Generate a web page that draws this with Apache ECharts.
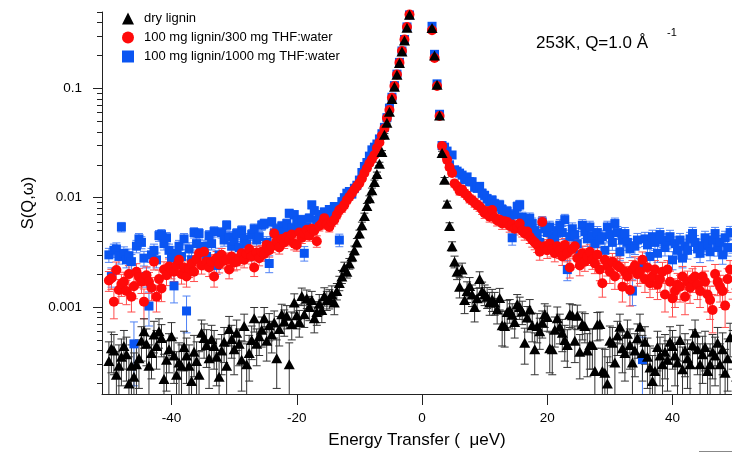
<!DOCTYPE html>
<html>
<head>
<meta charset="utf-8">
<script src="https://cdn.jsdelivr.net/npm/echarts@6/dist/echarts.min.js"></script>
<style>
  html, body { margin: 0; padding: 0; background: #fff; }
  #chart { width: 732px; height: 452px; }
</style>
</head>
<body>
<div id="chart"></div>
<script>
// Energy bins (μeV): regular 0.4 μeV grid from -50 to 50
const E_START = -50, E_STEP = 0.4, E_COUNT = 251;
const energy = [];
for (let i = 0; i < E_COUNT; i++) energy.push(+(E_START + i * E_STEP).toFixed(1));

// S(Q,ω) at 253 K, Q = 1.0 Å⁻¹ — null where the elastic peak is above the plotted range
const dryLignin = [
  3.2e-4,4.2e-4,4.0e-4,2.4e-4,2.9e-4,3.5e-4,4.4e-4,3.7e-4,2.0e-4,2.9e-4,
  2.3e-4,3.0e-4,3.4e-4,4.9e-4,6.0e-4,4.6e-4,2.9e-4,3.8e-4,5.6e-4,4.4e-4,
  6.0e-4,5.2e-4,2.2e-4,3.3e-4,4.1e-4,5.4e-4,3.6e-4,2.4e-4,3.1e-4,2.9e-4,
  4.3e-4,3.6e-4,2.9e-4,2.1e-4,3.9e-4,3.2e-4,2.4e-4,5.8e-4,5.2e-4,4.5e-4,
  3.4e-4,5.1e-4,4.4e-4,3.5e-4,2.3e-4,4.0e-4,4.8e-4,2.9e-4,6.3e-4,5.1e-4,
  4.1e-4,5.8e-4,4.6e-4,3.3e-4,6.7e-4,3.0e-4,3.8e-4,5.0e-4,7.9e-4,4.6e-4,
  5.4e-4,6.2e-4,7.9e-4,4.9e-4,6.8e-4,5.6e-4,7.2e-4,3.4e-4,6.3e-4,8.6e-4,
  7.4e-4,8.3e-4,3.0e-4,7.0e-4,1.1e-3,8.4e-4,7.3e-4,1.26e-3,8.6e-4,1.2e-3,
  1.0e-3,1.16e-3,7.9e-4,9.0e-4,1.07e-3,9.4e-4,1.26e-3,1.16e-3,1.2e-3,1.31e-3,
  1.1e-3,1.4e-3,1.66e-3,1.9e-3,2.3e-3,2.1e-3,2.5e-3,2.9e-3,3.3e-3,3.9e-3,
  4.7e-3,5.6e-3,6.8e-3,8.4e-3,9.9e-3,0.0117,0.0139,0.0165,0.0204,0.0262,
  0.0376,0.0484,0.061,0.080,0.1035,0.133,0.171,0.218,0.275,0.359,
  0.472,
  null,null,null,null,null,null,null,null,
  0.356,
  0.20,0.108,0.0565,0.0257,0.0146,0.0088,0.0055,0.0036,0.0026,0.0021,
  1.53e-3,2.2e-3,1.16e-3,1.4e-3,1.56e-3,1.3e-3,1.0e-3,1.2e-3,1.8e-3,1.4e-3,
  1.31e-3,1.24e-3,1.1e-3,1.18e-3,1.1e-3,9.5e-4,1.21e-3,6.8e-4,6.7e-4,9.0e-4,
  9.4e-4,8.5e-4,7.3e-4,1.06e-3,1.0e-3,9.1e-4,4.7e-4,8.0e-4,9.5e-4,6.8e-4,
  4.1e-4,6.7e-4,6.0e-4,7.2e-4,8.6e-4,8.1e-4,4.2e-4,4.1e-4,6.2e-4,7.9e-4,
  6.6e-4,5.8e-4,5.0e-4,4.5e-4,8.6e-4,8.4e-4,4.9e-4,8.3e-4,3.9e-4,7.0e-4,
  6.7e-4,4.0e-4,4.5e-4,4.5e-4,2.6e-4,6.9e-4,7.0e-4,2.6e-4,2.5e-4,2.0e-4,
  4.9e-4,4.7e-4,3.1e-4,5.5e-4,6.6e-4,4.2e-4,3.8e-4,5.7e-4,4.5e-4,3.1e-4,
  4.0e-4,5.2e-4,6.6e-4,3.8e-4,4.8e-4,3.5e-4,2.8e-4,2.1e-4,2.6e-4,4.3e-4,
  3.6e-4,3.0e-4,3.9e-4,3.3e-4,4.8e-4,4.4e-4,3.6e-4,3.1e-4,5.0e-4,2.7e-4,
  4.0e-4,3.4e-4,3.0e-4,4.5e-4,5.8e-4,4.1e-4,3.0e-4,3.7e-4,4.3e-4,2.6e-4,
  3.0e-4,3.9e-4,3.6e-4,4.7e-4,3.0e-4,4.1e-4,2.5e-4,3.4e-4,5.3e-4,4.4e-4,3.8e-4
];
const dryLigninErr = [
  1.6e-4,1.7e-4,1.6e-4,1.5e-4,1.6e-4,1.6e-4,1.7e-4,1.6e-4,1.5e-4,1.6e-4,
  1.5e-4,1.6e-4,1.6e-4,1.7e-4,1.8e-4,1.7e-4,1.6e-4,1.6e-4,1.8e-4,1.7e-4,
  1.8e-4,1.7e-4,1.5e-4,1.6e-4,1.6e-4,1.8e-4,1.6e-4,1.5e-4,1.6e-4,1.6e-4,
  1.7e-4,1.6e-4,1.6e-4,1.5e-4,1.6e-4,1.6e-4,1.5e-4,1.8e-4,1.8e-4,1.7e-4,
  1.6e-4,1.7e-4,1.7e-4,1.6e-4,1.5e-4,1.6e-4,1.7e-4,1.6e-4,1.9e-4,1.7e-4,
  1.7e-4,1.8e-4,1.7e-4,1.6e-4,1.9e-4,1.6e-4,1.7e-4,1.7e-4,2.0e-4,1.7e-4,
  1.8e-4,1.9e-4,2.0e-4,1.7e-4,1.9e-4,1.8e-4,2.0e-4,1.6e-4,1.9e-4,2.0e-4,
  2.0e-4,2.0e-4,1.7e-4,2.0e-4,2.2e-4,2.1e-4,2.0e-4,2.3e-4,2.1e-4,2.3e-4,
  2.5e-4,2.3e-4,2.1e-4,2.2e-4,2.3e-4,2.2e-4,2.4e-4,2.3e-4,2.4e-4,2.5e-4,
  2.5e-4,2.4e-4,2.5e-4,2.6e-4,2.7e-4,2.6e-4,2.8e-4,3.0e-4,3.1e-4,3.3e-4,
  3.5e-4,3.8e-4,4.2e-4,4.6e-4,5.0e-4,5.5e-4,6.0e-4,6.5e-4,7.0e-4,8.0e-4,
  1.0e-3,1.1e-3,1.2e-3,1.4e-3,1.6e-3,1.8e-3,2.0e-3,2.3e-3,2.6e-3,3.0e-3,
  3.4e-3,
  null,null,null,null,null,null,null,null,
  3.4e-3,
  2.5e-3,1.8e-3,1.3e-3,9.0e-4,7.0e-4,5.0e-4,4.0e-4,3.5e-4,3.2e-4,3.2e-4,
  3.2e-4,3.2e-4,2.9e-4,3.0e-4,3.0e-4,2.9e-4,2.7e-4,2.8e-4,3.0e-4,2.9e-4,
  2.8e-4,2.7e-4,2.6e-4,2.7e-4,2.6e-4,2.5e-4,2.7e-4,2.4e-4,2.4e-4,2.5e-4,
  2.3e-4,2.2e-4,2.1e-4,2.4e-4,2.3e-4,2.2e-4,1.7e-4,2.1e-4,2.2e-4,2.0e-4,
  1.7e-4,2.0e-4,1.9e-4,2.0e-4,2.1e-4,2.1e-4,1.7e-4,1.7e-4,1.9e-4,2.1e-4,
  2.0e-4,1.9e-4,1.8e-4,1.7e-4,2.1e-4,2.1e-4,1.8e-4,2.1e-4,1.7e-4,2.0e-4,
  2.0e-4,1.7e-4,1.8e-4,1.8e-4,1.6e-4,2.0e-4,2.0e-4,1.6e-4,1.6e-4,1.5e-4,
  1.8e-4,1.8e-4,1.6e-4,1.9e-4,2.0e-4,1.7e-4,1.7e-4,1.9e-4,1.8e-4,1.6e-4,
  1.7e-4,1.8e-4,2.0e-4,1.7e-4,1.8e-4,1.7e-4,1.6e-4,1.5e-4,1.6e-4,1.7e-4,
  1.7e-4,1.6e-4,1.7e-4,1.6e-4,1.8e-4,1.7e-4,1.7e-4,1.6e-4,1.8e-4,1.6e-4,
  1.7e-4,1.6e-4,1.6e-4,1.7e-4,1.8e-4,1.7e-4,1.6e-4,1.7e-4,1.7e-4,1.6e-4,
  1.6e-4,1.7e-4,1.7e-4,1.8e-4,1.6e-4,1.7e-4,1.6e-4,1.7e-4,1.8e-4,1.7e-4,1.7e-4
];

const lignin300 = [
  1.75e-3,1.83e-3,1.12e-3,2.18e-3,1.43e-3,1.62e-3,1.7e-3,1.4e-3,2.0e-3,1.24e-3,
  1.55e-3,2.1e-3,1.88e-3,1.7e-3,1.12e-3,1.95e-3,1.7e-3,1.5e-3,2.6e-3,1.24e-3,
  1.8e-3,1.48e-3,2.2e-3,1.95e-3,2.35e-3,2.2e-3,2.1e-3,2.4e-3,2.7e-3,2.0e-3,
  2.3e-3,1.9e-3,2.25e-3,2.5e-3,2.1e-3,2.75e-3,3.1e-3,2.4e-3,3.2e-3,2.6e-3,
  2.3e-3,2.6e-3,1.9e-3,2.8e-3,2.45e-3,3.0e-3,2.65e-3,2.7e-3,2.2e-3,2.9e-3,
  2.55e-3,2.6e-3,2.8e-3,3.1e-3,2.7e-3,3.05e-3,3.4e-3,2.9e-3,2.3e-3,3.15e-3,
  2.8e-3,3.2e-3,3.05e-3,3.7e-3,3.3e-3,3.6e-3,4.7e-3,4.0e-3,3.5e-3,4.2e-3,
  3.9e-3,4.4e-3,4.1e-3,4.6e-3,3.8e-3,3.7e-3,4.8e-3,4.3e-3,4.7e-3,5.1e-3,
  4.5e-3,5.2e-3,5.0e-3,4.0e-3,5.5e-3,5.8e-3,6.5e-3,5.7e-3,5.4e-3,6.0e-3,
  6.3e-3,7.0e-3,7.7e-3,8.0e-3,8.6e-3,9.5e-3,0.0102,0.011,0.0119,0.0127,
  0.0136,0.015,0.0168,0.0186,0.0207,0.0225,0.0246,0.0285,0.032,0.037,
  0.043,0.0535,0.0635,0.082,0.105,0.134,0.172,0.22,0.28,0.365,
  0.475,
  null,null,null,null,null,null,null,null,
  0.34,
  0.19,0.105,0.056,0.0297,0.025,0.0222,0.019,0.0168,0.0135,0.0127,
  0.0115,0.0119,0.011,0.0105,0.0098,0.0095,0.009,0.0086,0.0083,0.0078,
  0.0072,0.0075,0.0067,0.0077,0.0066,0.0062,0.0063,0.0058,0.0061,0.006,
  0.0055,0.0057,0.0052,0.0054,0.0058,0.005,0.0047,0.0049,0.0044,0.0041,
  0.0039,0.0037,0.0032,0.006,0.0036,0.0033,0.0038,0.0034,0.0031,0.0036,
  0.0033,0.0029,0.0037,0.0031,0.0023,0.0034,0.0036,0.0028,0.0024,0.0031,
  0.0026,0.0029,0.0032,0.0027,0.0025,0.003,0.0022,0.00165,0.0027,0.0024,
  0.0021,0.0026,0.0019,0.0024,0.0023,0.00153,0.0021,0.0019,0.00143,0.0022,
  0.0024,0.002,0.0021,0.0027,0.0018,0.0023,0.00165,0.0019,0.0022,0.0016,
  0.0018,0.0021,0.0013,0.0022,0.0017,0.0012,0.0014,0.0016,0.00153,0.0019,
  0.00124,0.0017,0.0015,0.0018,0.0019,0.0016,0.0014,0.0019,0.0017,0.0013,
  0.00116,0.00094,0.002,0.0017,0.00153,0.0014,0.00103,0.0018,0.0022,0.0016,0.0019
];
const lignin300Err = [
  3.6e-4,3.8e-4,3.4e-4,4.0e-4,3.5e-4,3.7e-4,3.8e-4,3.5e-4,3.9e-4,3.4e-4,
  3.6e-4,3.9e-4,3.8e-4,3.7e-4,3.4e-4,3.8e-4,3.7e-4,3.6e-4,4.2e-4,3.4e-4,
  3.8e-4,3.6e-4,3.9e-4,3.8e-4,4.0e-4,3.9e-4,3.9e-4,4.0e-4,4.2e-4,3.8e-4,
  4.0e-4,3.8e-4,3.9e-4,4.1e-4,3.9e-4,4.2e-4,4.4e-4,4.0e-4,4.4e-4,4.1e-4,
  4.0e-4,4.1e-4,3.8e-4,4.2e-4,4.0e-4,4.3e-4,4.1e-4,4.2e-4,3.9e-4,4.3e-4,
  4.1e-4,4.1e-4,4.2e-4,4.4e-4,4.2e-4,4.3e-4,4.5e-4,4.3e-4,4.0e-4,4.4e-4,
  4.2e-4,4.4e-4,4.3e-4,4.6e-4,4.4e-4,4.6e-4,5.0e-4,4.7e-4,4.5e-4,4.8e-4,
  4.7e-4,4.9e-4,4.8e-4,5.0e-4,4.7e-4,4.6e-4,5.1e-4,4.9e-4,5.0e-4,5.2e-4,
  5.0e-4,5.3e-4,5.2e-4,4.8e-4,5.4e-4,5.5e-4,5.7e-4,5.5e-4,5.4e-4,5.6e-4,
  5.7e-4,6.0e-4,6.3e-4,6.5e-4,6.7e-4,7.0e-4,7.2e-4,7.5e-4,7.8e-4,8.0e-4,
  8.4e-4,8.8e-4,9.3e-4,9.8e-4,1.05e-3,1.1e-3,1.15e-3,1.25e-3,1.35e-3,1.45e-3,
  1.6e-3,1.8e-3,2.0e-3,2.3e-3,2.6e-3,2.9e-3,3.3e-3,3.7e-3,4.2e-3,4.8e-3,
  5.5e-3,
  null,null,null,null,null,null,null,null,
  5.3e-3,
  4.0e-3,2.9e-3,2.1e-3,1.5e-3,1.4e-3,1.3e-3,1.2e-3,1.1e-3,1.0e-3,9.6e-4,
  9.2e-4,9.4e-4,9.0e-4,8.8e-4,8.5e-4,8.4e-4,8.2e-4,8.0e-4,7.9e-4,7.7e-4,
  7.4e-4,7.5e-4,7.2e-4,7.6e-4,7.1e-4,6.9e-4,7.0e-4,6.7e-4,6.9e-4,6.8e-4,
  6.6e-4,6.7e-4,6.4e-4,6.5e-4,6.7e-4,6.3e-4,6.1e-4,6.2e-4,5.9e-4,5.7e-4,
  5.6e-4,5.5e-4,5.2e-4,6.5e-4,5.4e-4,5.2e-4,5.5e-4,5.3e-4,5.1e-4,5.4e-4,
  5.2e-4,5.0e-4,5.4e-4,5.1e-4,4.6e-4,5.2e-4,5.3e-4,4.9e-4,4.7e-4,5.1e-4,
  4.8e-4,5.0e-4,5.1e-4,4.9e-4,4.8e-4,5.0e-4,4.6e-4,4.2e-4,4.9e-4,4.8e-4,
  4.6e-4,4.9e-4,4.5e-4,4.8e-4,4.7e-4,4.2e-4,4.6e-4,4.5e-4,4.1e-4,4.6e-4,
  4.8e-4,4.5e-4,4.6e-4,4.9e-4,4.4e-4,4.7e-4,4.3e-4,4.5e-4,4.6e-4,4.3e-4,
  4.4e-4,4.6e-4,4.0e-4,4.6e-4,4.3e-4,3.9e-4,4.1e-4,4.3e-4,4.2e-4,4.5e-4,
  3.9e-4,4.3e-4,4.2e-4,4.4e-4,4.5e-4,4.3e-4,4.1e-4,4.5e-4,4.3e-4,4.0e-4,
  3.9e-4,3.6e-4,4.5e-4,4.3e-4,4.2e-4,4.1e-4,3.8e-4,4.4e-4,4.6e-4,4.2e-4,4.4e-4
];

const lignin1000 = [
  3.0e-3,1.9e-3,3.3e-3,3.4e-3,2.9e-3,5.4e-3,3.1e-3,2.7e-3,2.95e-3,2.6e-3,
  4.6e-4,3.6e-3,4.2e-3,3.9e-3,2.8e-3,1.9e-3,1.02e-3,3.0e-3,3.3e-3,2.7e-3,
  4.5e-3,4.6e-3,3.8e-3,4.3e-3,3.3e-3,2.8e-3,1.56e-3,3.1e-3,3.6e-3,2.9e-3,
  4.2e-3,9.2e-4,3.4e-3,2.7e-3,4.8e-3,3.8e-3,4.7e-3,3.2e-3,3.6e-3,2.9e-3,
  4.5e-3,3.8e-3,4.9e-3,2.4e-3,3.0e-3,4.8e-3,4.1e-3,5.6e-3,4.4e-3,3.6e-3,
  4.0e-3,4.7e-3,3.5e-3,5.0e-3,4.2e-3,3.8e-3,3.1e-3,4.6e-3,5.2e-3,4.1e-3,
  4.4e-3,5.6e-3,5.8e-3,3.9e-3,2.5e-3,6.0e-3,4.7e-3,5.2e-3,4.4e-3,5.5e-3,
  4.9e-3,5.8e-3,7.2e-3,5.3e-3,7.0e-3,6.1e-3,5.6e-3,6.3e-3,3.1e-3,5.4e-3,
  6.5e-3,8.6e-3,7.6e-3,6.2e-3,7.0e-3,6.6e-3,7.4e-3,6.8e-3,7.8e-3,7.2e-3,
  8.3e-3,8.0e-3,4.1e-3,9.2e-3,0.010,0.011,0.0114,0.0108,0.0122,0.013,
  0.0145,0.017,0.0193,0.021,0.024,0.0274,0.029,0.031,0.0345,0.0385,
  0.044,0.054,0.066,0.083,0.106,0.135,0.173,0.22,0.28,0.365,
  0.47,
  null,null,null,null,null,null,null,null,
  0.37,
  0.205,0.11,0.058,0.030,0.029,0.0267,0.020,0.0246,0.018,0.0175,
  0.0168,0.0161,0.0146,0.0155,0.014,0.014,0.0125,0.0122,0.0127,0.011,
  0.0105,0.0098,0.0092,0.0095,0.0088,0.0082,0.0086,0.0078,0.0072,0.0075,
  0.0068,0.0043,0.007,0.0083,0.0086,0.0066,0.0061,0.0055,0.0065,0.0058,
  0.005,0.0047,0.0039,0.006,0.0052,0.0048,0.0054,0.0045,0.0042,0.005,
  0.0056,0.0048,0.0063,0.0022,0.0044,0.0052,0.0046,0.0038,0.003,0.0056,
  0.0049,0.0042,0.0054,0.0045,0.0038,0.0048,0.0041,0.0044,0.0033,0.0054,
  0.0046,0.0039,0.0058,0.0048,0.0032,0.0041,0.0047,0.0039,0.0034,0.0014,
  0.0036,0.0041,0.0023,0.00033,0.0042,0.0037,0.0029,0.0044,0.0039,0.0031,
  0.0046,0.0041,0.0035,0.004,0.0044,0.0027,0.0038,0.0033,0.0041,0.0028,
  0.0036,0.0033,0.0042,0.0047,0.0039,0.0034,0.0031,0.0036,0.0043,0.0038,
  0.0032,0.0041,0.0047,0.0035,0.0039,0.003,0.0043,0.0035,0.0048,0.0037,0.0041
];
const lignin1000Err = [
  4.4e-4,3.8e-4,4.6e-4,4.6e-4,4.3e-4,5.4e-4,4.5e-4,4.2e-4,4.4e-4,4.2e-4,
  2.7e-4,4.7e-4,5.0e-4,4.9e-4,4.3e-4,3.8e-4,3.5e-4,4.4e-4,4.6e-4,4.2e-4,
  5.1e-4,5.1e-4,4.8e-4,5.0e-4,4.6e-4,4.3e-4,4.7e-4,4.5e-4,4.7e-4,4.4e-4,
  5.0e-4,3.4e-4,4.7e-4,4.3e-4,5.2e-4,4.8e-4,5.2e-4,4.6e-4,4.8e-4,4.4e-4,
  5.1e-4,4.8e-4,5.3e-4,4.1e-4,4.5e-4,5.2e-4,5.0e-4,5.6e-4,5.1e-4,4.8e-4,
  5.0e-4,5.2e-4,4.7e-4,5.4e-4,5.0e-4,4.9e-4,4.6e-4,5.2e-4,5.5e-4,5.0e-4,
  5.2e-4,5.7e-4,5.8e-4,5.0e-4,4.4e-4,5.9e-4,5.3e-4,5.6e-4,5.2e-4,5.7e-4,
  5.4e-4,5.8e-4,6.3e-4,5.6e-4,6.2e-4,5.9e-4,5.7e-4,6.0e-4,4.7e-4,5.7e-4,
  6.1e-4,6.9e-4,6.5e-4,6.0e-4,6.3e-4,6.2e-4,6.5e-4,6.3e-4,6.7e-4,6.5e-4,
  7.0e-4,6.9e-4,5.4e-4,7.5e-4,7.8e-4,8.2e-4,8.4e-4,8.2e-4,8.7e-4,9.0e-4,
  9.5e-4,1.03e-3,1.1e-3,1.15e-3,1.23e-3,1.32e-3,1.36e-3,1.4e-3,1.48e-3,1.56e-3,
  1.7e-3,1.9e-3,2.1e-3,2.4e-3,2.7e-3,3.0e-3,3.4e-3,3.8e-3,4.3e-3,4.9e-3,
  5.6e-3,
  null,null,null,null,null,null,null,null,
  5.6e-3,
  4.2e-3,3.1e-3,2.2e-3,1.6e-3,1.6e-3,1.5e-3,1.3e-3,1.5e-3,1.3e-3,1.3e-3,
  1.2e-3,1.2e-3,1.1e-3,1.15e-3,1.1e-3,1.1e-3,1.05e-3,1.04e-3,1.06e-3,9.8e-4,
  9.6e-4,9.3e-4,9.0e-4,9.1e-4,8.8e-4,8.5e-4,8.7e-4,8.3e-4,8.0e-4,8.2e-4,
  7.8e-4,6.2e-4,7.9e-4,8.4e-4,8.6e-4,7.6e-4,7.3e-4,7.0e-4,7.5e-4,7.1e-4,
  6.7e-4,6.5e-4,6.0e-4,7.2e-4,6.8e-4,6.6e-4,6.9e-4,6.4e-4,6.2e-4,6.7e-4,
  7.0e-4,6.6e-4,7.4e-4,4.6e-4,6.4e-4,6.8e-4,6.5e-4,6.0e-4,5.4e-4,7.0e-4,
  6.6e-4,6.2e-4,6.9e-4,6.4e-4,6.0e-4,6.5e-4,6.1e-4,6.3e-4,5.6e-4,6.9e-4,
  6.4e-4,6.0e-4,7.1e-4,6.5e-4,5.5e-4,6.1e-4,6.4e-4,6.0e-4,5.7e-4,3.7e-4,
  5.8e-4,6.1e-4,4.7e-4,2.0e-4,6.2e-4,5.9e-4,5.3e-4,6.4e-4,6.0e-4,5.4e-4,
  6.4e-4,6.1e-4,5.7e-4,6.0e-4,6.3e-4,5.1e-4,5.9e-4,5.6e-4,6.1e-4,5.2e-4,
  5.8e-4,5.6e-4,6.2e-4,6.5e-4,6.0e-4,5.7e-4,5.5e-4,5.8e-4,6.3e-4,5.9e-4,
  5.5e-4,6.1e-4,6.5e-4,5.8e-4,6.0e-4,5.4e-4,6.3e-4,5.8e-4,6.6e-4,5.9e-4,6.1e-4
];

// Axis ticks
const xTickValues = [-40, -20, 0, 20, 40];
const yMajorTicks = [0.001, 0.01, 0.1];
const yMinorTicks = [
  2e-4, 3e-4, 4e-4, 5e-4, 6e-4, 7e-4, 8e-4, 9e-4,
  2e-3, 3e-3, 4e-3, 5e-3, 6e-3, 7e-3, 8e-3, 9e-3,
  0.02, 0.03, 0.04, 0.05, 0.06, 0.07, 0.08, 0.09,
  0.2, 0.3, 0.4, 0.5
];

const X_MIN = -51.1, X_MAX = 49.5;
const Y_MIN = 0.00016, Y_MAX = 0.5;

const FONT = '"Liberation Sans", Arial, Helvetica, sans-serif';

function points(values) {
  const out = [];
  energy.forEach((e, i) => { if (values[i] != null) out.push([e, values[i]]); });
  return out;
}
function errPoints(values, errs) {
  const out = [];
  energy.forEach((e, i) => { if (values[i] != null) out.push([e, values[i], errs[i]]); });
  return out;
}

// Vertical error bars with caps; the lower end runs to the axis when v - err drops below the range
function errorBars(name, values, errs, color) {
  return {
    type: 'custom',
    name: name,
    silent: true,
    clip: true,
    encode: { x: 0, y: 1 },
    data: errPoints(values, errs),
    renderItem: function (params, api) {
      const e = api.value(0), v = api.value(1), err = api.value(2);
      const cs = params.coordSys;
      const top = cs.y, bottom = cs.y + cs.height;
      const x = api.coord([e, v])[0];
      const lo = v - err, hi = v + err;
      const yHi = hi < Y_MAX ? api.coord([e, hi])[1] : top;
      const yLo = lo > Y_MIN ? api.coord([e, lo])[1] : bottom;
      const hw = 4;
      const st = { stroke: color, lineWidth: 1 };
      const children = [
        { type: 'line', shape: { x1: x, y1: yHi, x2: x, y2: yLo }, style: st }
      ];
      if (hi < Y_MAX) children.push({ type: 'line', shape: { x1: x - hw, y1: yHi, x2: x + hw, y2: yHi }, style: st });
      if (lo > Y_MIN) children.push({ type: 'line', shape: { x1: x - hw, y1: yLo, x2: x + hw, y2: yLo }, style: st });
      return { type: 'group', children: children };
    }
  };
}

const SERIES_NAMES = ['dry lignin', '100 mg lignin/300 mg THF:water', '100 mg lignin/1000 mg THF:water'];
const BLUE = '#0a55f2', RED = '#ff0a0a', BLACK = '#000000';

const chart = echarts.init(document.getElementById('chart'), null, { renderer: 'canvas' });
chart.setOption({
  animation: false,
  backgroundColor: '#ffffff',
  textStyle: { fontFamily: FONT },
  grid: { left: 102, right: 0, top: 12, bottom: 58, outerBoundsMode: 'none', containLabel: false },
  legend: {
    left: 117, top: 7, orient: 'vertical',
    itemWidth: 12, itemHeight: 12, itemGap: 6,
    selectedMode: false,
    textStyle: { fontSize: 13, color: '#000', fontFamily: FONT, padding: [0, 0, 0, 5] },
    data: [
      { name: SERIES_NAMES[0], icon: 'triangle' },
      { name: SERIES_NAMES[1], icon: 'circle' },
      { name: SERIES_NAMES[2], icon: 'rect' }
    ]
  },
  xAxis: {
    type: 'value', min: X_MIN, max: X_MAX,
    name: 'Energy Transfer (  μeV)', nameLocation: 'middle', nameGap: 38,
    nameTextStyle: { fontSize: 17, color: '#000', fontFamily: FONT },
    axisLine: { onZero: false, lineStyle: { color: '#222', width: 1 } },
    axisTick: { inside: false, length: 11, customValues: xTickValues, lineStyle: { color: '#222' } },
    axisLabel: { customValues: xTickValues, fontSize: 13.5, color: '#000', margin: 17, fontFamily: FONT,
                 formatter: v => String(Math.round(v)) },
    splitLine: { show: false }
  },
  yAxis: [
    {
      type: 'log', min: Y_MIN, max: Y_MAX, logBase: 10, position: 'left',
      name: 'S(Q,ω)', nameLocation: 'middle', nameGap: 62, nameRotate: 90,
      nameTextStyle: { fontSize: 16.5, color: '#000', fontFamily: FONT },
      axisLine: { show: true, onZero: false, lineStyle: { color: '#222', width: 1 } },
      axisTick: { inside: false, length: 9, customValues: yMajorTicks, lineStyle: { color: '#222' } },
      axisLabel: { customValues: yMajorTicks, fontSize: 13.5, color: '#000', margin: 20, fontFamily: FONT,
                   formatter: v => String(+(+v).toPrecision(6)) },
      splitLine: { show: false }
    },
    {
      type: 'log', min: Y_MIN, max: Y_MAX, logBase: 10, position: 'left',
      axisLine: { show: false, onZero: false },
      axisTick: { inside: false, length: 5, customValues: yMinorTicks, lineStyle: { color: '#222' } },
      axisLabel: { show: false },
      splitLine: { show: false }
    }
  ],
  series: [
    errorBars('err1000', lignin1000, lignin1000Err, '#4f82f5'),
    {
      type: 'scatter', name: SERIES_NAMES[2], data: points(lignin1000),
      symbol: 'rect', symbolSize: 9, itemStyle: { color: BLUE, opacity: 1 }, clip: true
    },
    errorBars('err300', lignin300, lignin300Err, '#ff4d4d'),
    {
      type: 'scatter', name: SERIES_NAMES[1], data: points(lignin300),
      symbol: 'circle', symbolSize: 10, itemStyle: { color: RED, opacity: 1 }, clip: true
    },
    errorBars('errDry', dryLignin, dryLigninErr, '#333333'),
    {
      type: 'scatter', name: SERIES_NAMES[0], data: points(dryLignin),
      symbol: 'triangle', symbolSize: [11, 10], itemStyle: { color: BLACK, opacity: 1 }, clip: true
    }
  ],
  graphic: [
    { type: 'text', left: 536, top: 35, style: { text: '253K, Q=1.0 Å', font: '17px ' + FONT, fill: '#000' } },
    { type: 'text', left: 667, top: 27, style: { text: '-1', font: '11px ' + FONT, fill: '#000' } },
    { type: 'line', shape: { x1: 699, y1: 451.5, x2: 732, y2: 451.5 }, style: { stroke: '#888', lineWidth: 1 } }
  ]
});
</script>
</body>
</html>
